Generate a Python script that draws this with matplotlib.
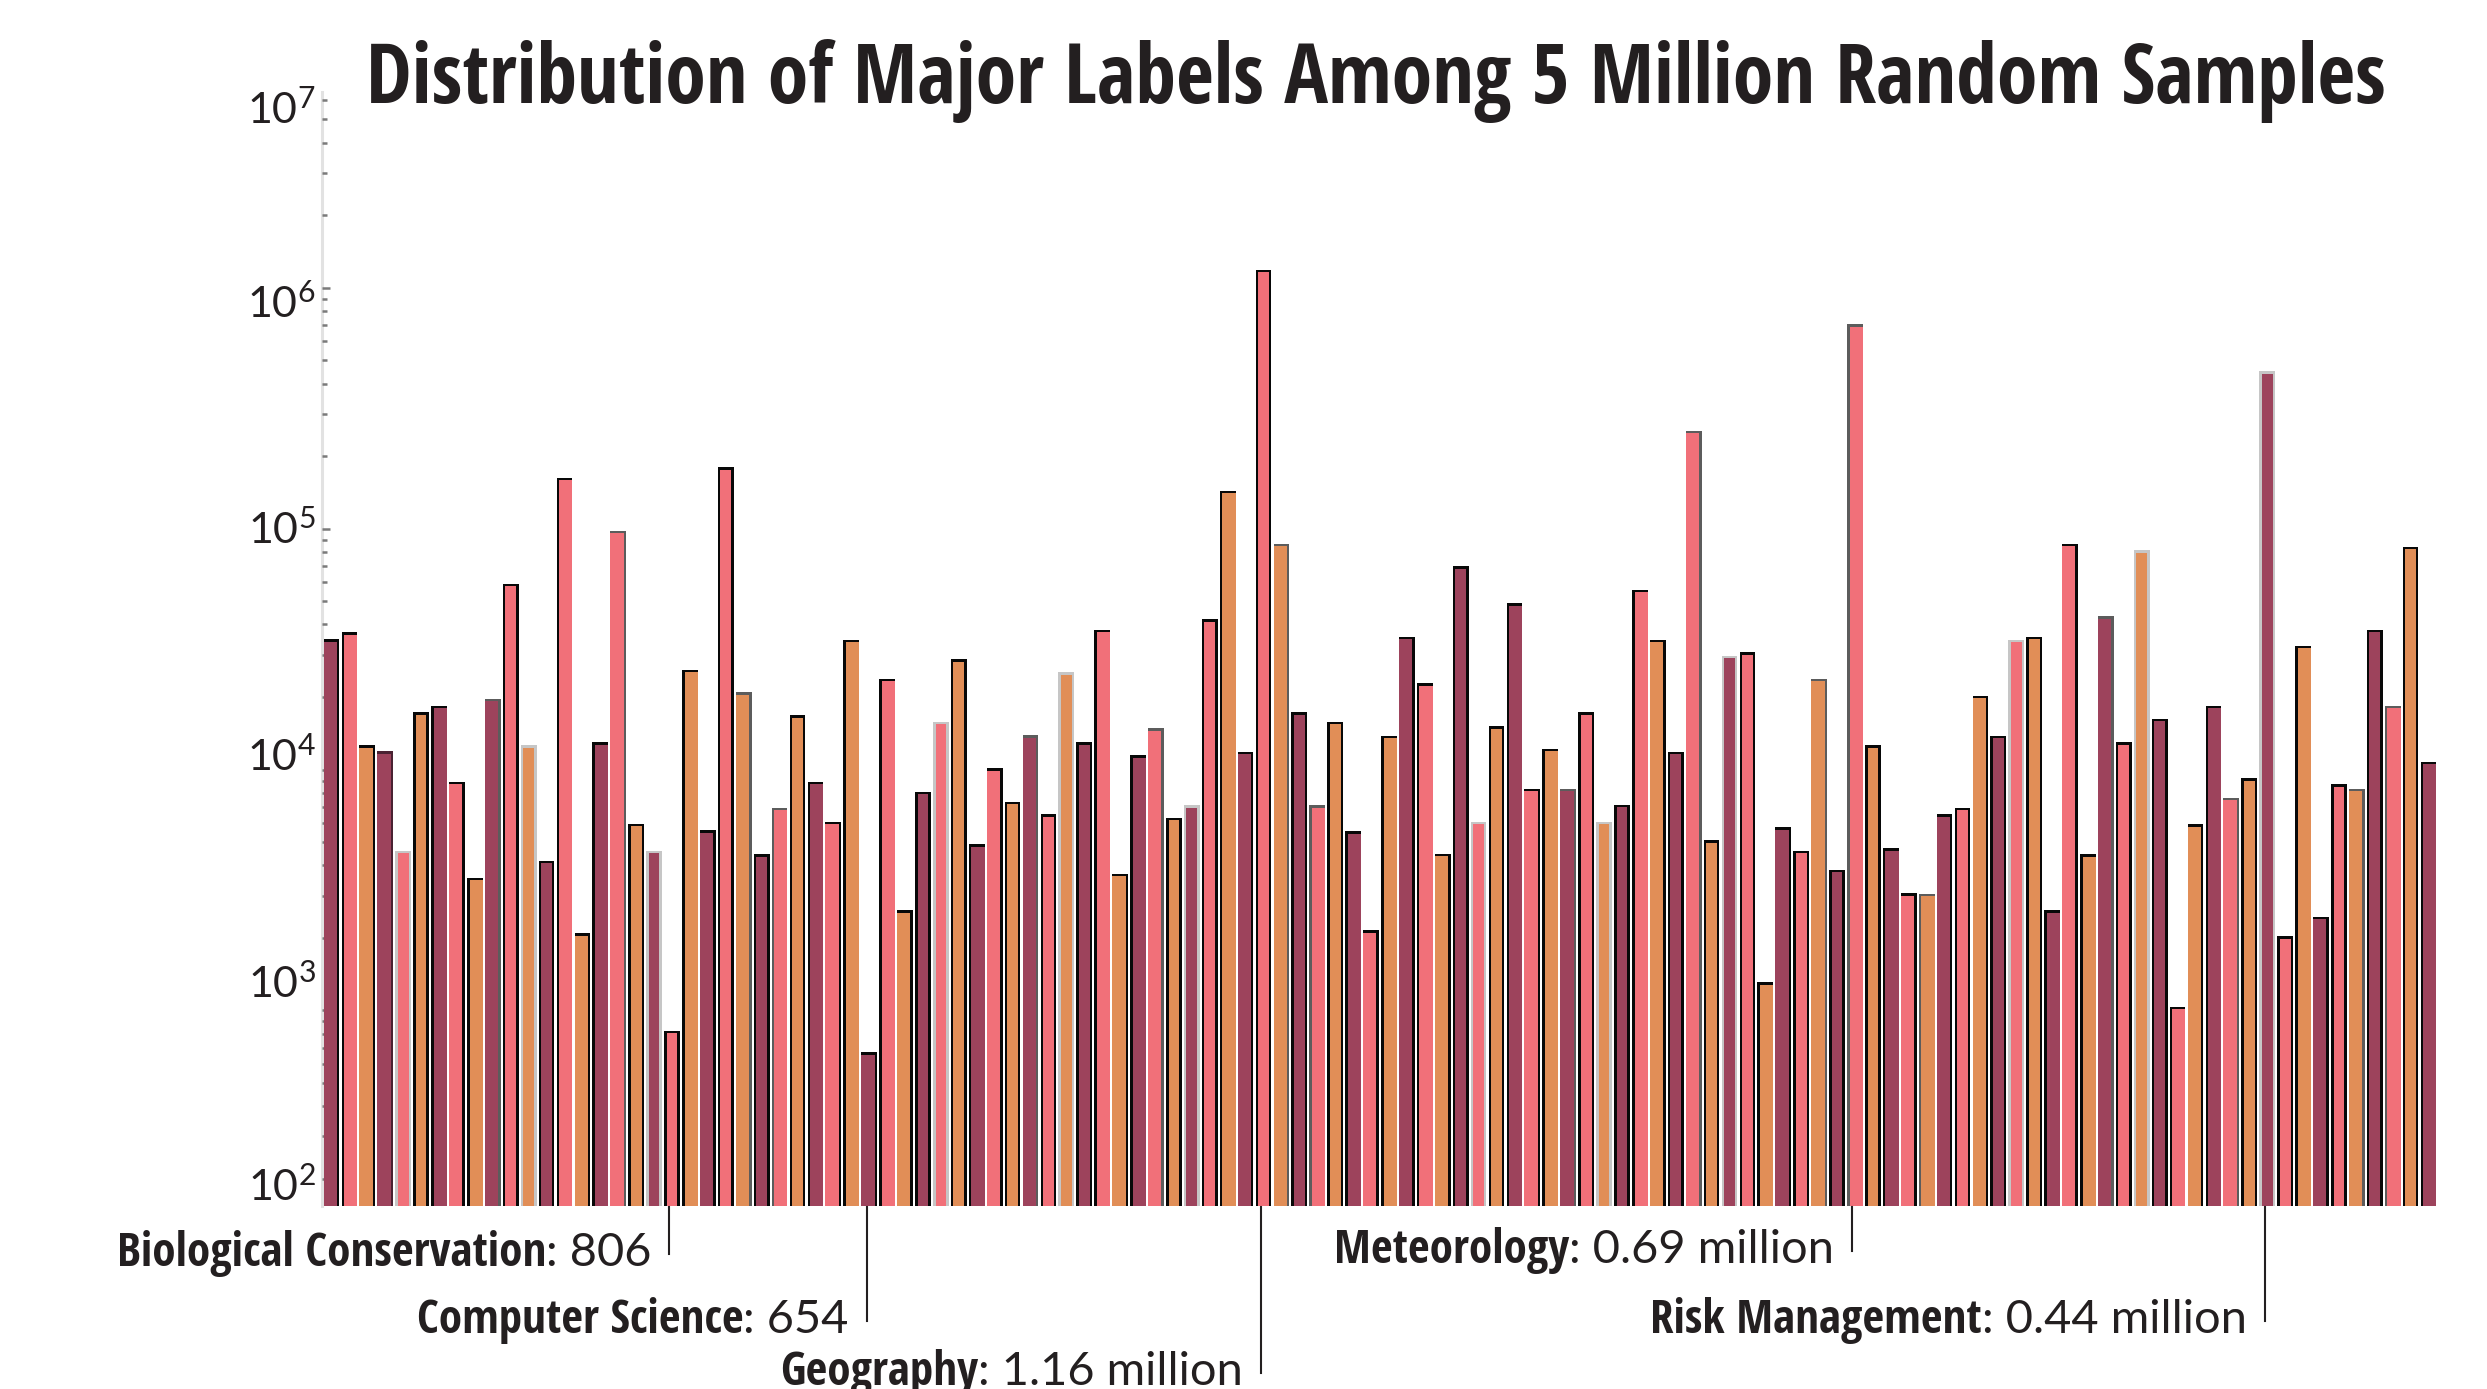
import matplotlib
matplotlib.use('Agg')
import matplotlib.pyplot as plt
from matplotlib import font_manager
from matplotlib import transforms

# samples per major label (118 majors, log scale)
counts = [34000, 36300, 12300, 11650, 4490, 16900, 18000, 8680, 3470, 19200,
          57700, 12300, 4090, 158800, 2040, 12700, 95700, 5820, 4490, 806,
          25300, 5460, 175400, 20400, 4340, 6780, 16400, 8680, 5920, 33800,
          654, 23200, 2540, 7900, 15450, 28000, 4770, 9880, 7190, 13580,
          6360, 24700, 12700, 37100, 3610, 11200, 14500, 6170, 6940, 41000,
          140300, 11600, 1160000, 84600, 16900, 6940, 15450, 5420, 2100, 13500,
          34800, 22300, 4360, 68100, 5920, 14800, 47800, 8140, 11900, 8140,
          16900, 5920, 6980, 54400, 33800, 11600, 248300, 4970, 29000, 29900,
          1280, 5620, 4490, 23200, 3740, 690000, 12300, 4600, 2990, 2980,
          6360, 6780, 19800, 13500, 33800, 34800, 2540, 84600, 4340, 42200,
          12700, 79300, 15900, 1010, 5790, 18000, 7450, 9000, 440000, 1980,
          31900, 2390, 8480, 8140, 37100, 18000, 82200, 10540]

ann_names = ['Biological Conservation', 'Computer Science', 'Geography',
             'Meteorology', 'Risk Management']
ann_values = [': 806', ': 654', ': 1.16 million', ': 0.69 million', ': 0.44 million']
ann_bars = [19, 30, 52, 85, 108]

ytick_labels = ['10^{7}', '10^{6}', '10^{5}', '10^{4}', '10^{3}', '10^{2}']

title = 'Distribution of Major Labels Among 5 Million Random Samples'

# ---- style ----
bar_colors = ['#9D435C', '#F17079', '#E18E57']
# where the coloured bar sits on its shadow (l/c/r) and the shadow shade
shadow_align = ("lrllccrlrl" "cccrlrlccc" "rlclcrcrlr" "lrlcccrlcl" "cccrlrlccc"
                "rlclcrcrlr" "lrlcccrlrl" "cccrlclccc" "rlclcrcrlr" "lclcccrlrl"
                "cccrlrlccc" "rlclcrcr")
shadow_shade = ("kkkdlkkkkg" "klkkkkgklk" "kkkgkgkkkk" "kkkklkkkkg" "klkkkkgklk"
                "kkkgkgkkkk" "kkkklkkkkg" "klkkkkgklk" "kkkgkgkkkg" "kkkklkkkkg"
                "klkkkkgklk" "kkkgkgkk")
shade_colors = {'k': '#080808', 'g': '#5c5c5c', 'l': '#c6c6c6', 'd': '#4a2232'}
text_color = '#231F20'

names = {f.name for f in font_manager.fontManager.ttflist}
def pick(*cands):
    for c in cands:
        if c in names:
            return c
    return 'DejaVu Sans'

bold_font = pick('Open Sans Condensed', 'Liberation Sans Narrow', 'Roboto Condensed', 'Lato')
light_font = pick('Lato', 'Noto Sans', 'DejaVu Sans')
plt.rcParams['font.family'] = [light_font, 'DejaVu Sans']

W, H = 2487, 1389
def fx(px):
    return px / W
def fy(py):
    return 1 - py / H

fig = plt.figure(figsize=(W / 100, H / 100), dpi=100)
ax = fig.add_axes([fx(322), fy(1206), fx(2440) - fx(322), fy(91.7) - fy(1206)])
ax.set_yscale('log')
ymin, ymax = 154.3, 6.51e6
ax.set_ylim(ymin, ymax)
ax.set_xlim(-0.53, len(counts) - 0.36)

x = list(range(len(counts)))
sw = 0.88
shadow_top = 10 ** (2.5 / 240.9)
sh_h = [c * shadow_top - ymin for c in counts]
sh_c = [shade_colors[s] for s in shadow_shade]
ax.bar(x, sh_h, bottom=ymin, width=sw, color=sh_c, linewidth=0, zorder=1)

for i, c in enumerate(counts):
    a = shadow_align[i]
    if a == 'c':
        w, off = 0.6, 0.0
    else:
        w = 0.74
        off = -(sw - w) / 2 if a == 'l' else (sw - w) / 2
    ax.bar(i + off, c - ymin, bottom=ymin, width=w,
           color=bar_colors[i % 3], linewidth=0, zorder=2)

for s in ['top', 'right', 'bottom']:
    ax.spines[s].set_visible(False)
ax.spines['left'].set_color('#e2e2e2')
ax.spines['left'].set_linewidth(2.2)
ax.spines['left'].set_zorder(0.5)
ax.set_axisbelow(True)
ax.set_xticks([])
ax.tick_params(axis='y', which='both', direction='in', colors='#7a7a7a',
               labelleft=False)
ax.tick_params(axis='y', which='major', length=6, width=1.8)
ax.tick_params(axis='y', which='minor', length=3.5, width=1.8)

# y labels, spread along the axis as in the original
ylab_base = [124, 318, 544, 771, 998, 1201]
for lab, yb in zip(ytick_labels, ylab_base):
    fig.text(fx(316), fy(yb), r'$\mathregular{' + lab + '}$', ha='right',
             va='baseline', fontsize=31, color=text_color)

renderer = fig.canvas.get_renderer()

t = fig.text(fx(1376), fy(103), title, ha='center', va='baseline',
             fontsize=50, fontweight='bold', family=[bold_font, 'DejaVu Sans'],
             color=text_color)
t.set_fontsize(50 * 2022 / t.get_window_extent(renderer).width)

# annotations under the bars
ann_base = [1266, 1333, 1385, 1263, 1333]
line_tr = transforms.blended_transform_factory(ax.transData, fig.transFigure)
size = 30
placed = []
for name, val, bi, yb in zip(ann_names, ann_values, ann_bars, ann_base):
    lx_data = bi - 0.15
    ax.plot([lx_data, lx_data], [fy(1207), fy(yb - 12)], color=text_color,
            lw=1.5, transform=line_tr, clip_on=False)
    lx_px = ax.transData.transform((lx_data, 1000))[0]
    tv = fig.text(fx(lx_px - 18), fy(yb), val, ha='right', va='baseline',
                  fontsize=size, color=text_color)
    left = tv.get_window_extent(renderer).x0
    tn = fig.text(fx(left), fy(yb), name, ha='right', va='baseline',
                  fontsize=size, fontweight='bold',
                  family=[bold_font, 'DejaVu Sans'], color=text_color)
    placed.append((tv, tn, lx_px, yb))

# scale so "Biological Conservation: 806" is about 534 px wide
tv, tn, _, _ = placed[0]
full = tv.get_window_extent(renderer).x1 - tn.get_window_extent(renderer).x0
size = size * 534 / full
for tv, tn, lx_px, yb in placed:
    tv.set_fontsize(size)
    tn.set_fontsize(size)
    left = tv.get_window_extent(renderer).x0
    tn.set_x(fx(left))

fig.savefig('out.png', dpi=100, facecolor='white')
